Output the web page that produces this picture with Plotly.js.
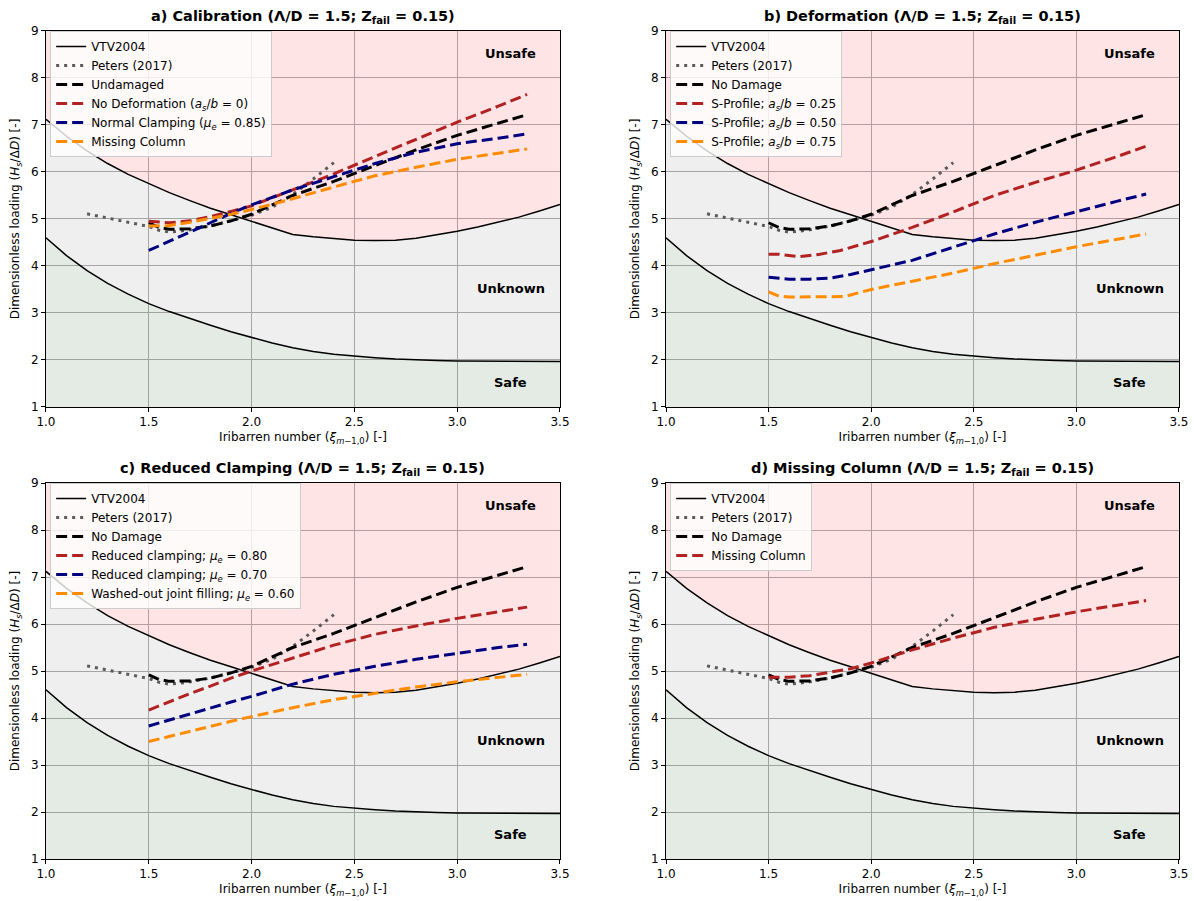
<!DOCTYPE html>
<html><head><meta charset="utf-8">
<script src="https://cdn.plot.ly/plotly-3.0.1.min.js"></script>
<style>html,body{margin:0;padding:0;background:#fff}#chart{width:1194px;height:901px}</style>
</head><body><div id="chart"></div>
<script>
// ---------- data ----------
const xiTicks = [1.0, 1.5, 2.0, 2.5, 3.0, 3.5];
const hTicks = [1, 2, 3, 4, 5, 6, 7, 8, 9];
const xiRange = [1.0, 3.5];
const hRange = [1, 9];

const vtvXi    = [1.0,1.1,1.2,1.3,1.4,1.5,1.6,1.7,1.8,1.9,2.0,2.1,2.2,2.3,2.4,2.5,2.6,2.7,2.8,2.9,3.0,3.1,3.2,3.3,3.4,3.5];
const vtvUpper = [7.12,6.76,6.45,6.18,5.95,5.75,5.56,5.39,5.23,5.09,4.95,4.80,4.67,4.62,4.58,4.55,4.54,4.55,4.59,4.66,4.74,4.83,4.93,5.04,5.17,5.31];
const vtvLower = [4.60,4.22,3.90,3.63,3.40,3.20,3.03,2.88,2.74,2.60,2.48,2.36,2.26,2.18,2.12,2.08,2.05,2.02,2.00,1.99,1.98,1.975,1.97,1.97,1.97,1.97];

const petersXi = [1.2,1.3,1.4,1.5,1.55,1.6,1.65,1.7,1.8,1.9,2.0,2.1,2.2,2.3,2.4];
const petersH  = [5.11,5.02,4.93,4.84,4.76,4.72,4.74,4.77,4.85,4.96,5.08,5.25,5.52,5.85,6.2];

const undamagedXi = [1.5,1.55,1.6,1.7,1.8,1.9,2.0,2.2,2.4,2.6,2.8,3.0,3.2,3.34];
const undamagedH  = [4.92,4.82,4.78,4.79,4.85,4.96,5.1,5.5,5.8,6.13,6.47,6.78,7.03,7.22];

const simXi = [1.5,1.6,1.7,1.8,1.9,2.0,2.2,2.4,2.6,2.8,3.0,3.2,3.34];

// a) Calibration
const noDeformationH   = [4.95,4.92,4.96,5.05,5.16,5.28,5.62,5.96,6.33,6.70,7.06,7.40,7.65];
const normalClampingH  = [4.33,4.52,4.72,4.92,5.12,5.30,5.62,5.90,6.18,6.42,6.60,6.72,6.81];
const missingColumnAH  = [4.85,4.86,4.93,5.01,5.10,5.20,5.43,5.68,5.92,6.10,6.27,6.40,6.49];

// b) Deformation
const sProfile025Xi = [1.5,1.55,1.65,1.75,1.85,2.0,2.2,2.4,2.6,2.8,3.0,3.2,3.34];
const sProfile025H  = [4.25,4.25,4.20,4.25,4.33,4.52,4.82,5.15,5.50,5.78,6.04,6.33,6.55];
const sProfile050H  = [3.76,3.72,3.72,3.74,3.82,3.92,4.12,4.40,4.68,4.93,5.16,5.38,5.53];
const sProfile075Xi = [1.5,1.55,1.6,1.7,1.8,1.87,2.0,2.2,2.4,2.6,2.8,3.0,3.2,3.34];
const sProfile075H  = [3.45,3.36,3.34,3.34,3.34,3.35,3.50,3.67,3.85,4.05,4.23,4.41,4.57,4.68];

// c) Reduced clamping
const clamping080H = [4.17,4.35,4.52,4.68,4.85,5.00,5.28,5.55,5.78,5.96,6.12,6.26,6.36];
const clamping070H = [3.83,3.96,4.09,4.21,4.34,4.46,4.72,4.93,5.10,5.25,5.38,5.50,5.57];
const washedOut060H = [3.50,3.61,3.72,3.83,3.93,4.03,4.22,4.39,4.53,4.66,4.77,4.87,4.93];

// d) Missing column
const missingColumnDH = [4.87,4.87,4.90,4.97,5.05,5.17,5.45,5.70,5.93,6.10,6.26,6.40,6.50];

const zoneLabels = ['Unsafe', 'Unknown', 'Safe'];
const zoneXi = [3.26, 3.26, 3.26];
const zoneH = [8.53, 3.53, 1.53];

// ---------- styles ----------
const FONT = 'DejaVu Sans, Arial, sans-serif';
const RED = '#b22222', NAVY = '#000080', ORANGE = '#ff8c00', BLACK = '#000000';
const DASH = '11px,5px';

const panels = [
  {title: 'a) Calibration', legendTop: 0.9656, series: [
    {name: 'Undamaged', xi: undamagedXi, h: undamagedH, color: BLACK},
    {name: 'No Deformation (<i>a<sub>s</sub></i>/<i>b</i> = 0)', xi: simXi, h: noDeformationH, color: RED},
    {name: 'Normal Clamping (<i>μ<sub>e</sub></i> = 0.85)', xi: simXi, h: normalClampingH, color: NAVY},
    {name: 'Missing Column', xi: simXi, h: missingColumnAH, color: ORANGE}]},
  {title: 'b) Deformation', legendTop: 0.9656, series: [
    {name: 'No Damage', xi: undamagedXi, h: undamagedH, color: BLACK},
    {name: 'S-Profile; <i>a<sub>s</sub></i>/<i>b</i> = 0.25', xi: sProfile025Xi, h: sProfile025H, color: RED},
    {name: 'S-Profile; <i>a<sub>s</sub></i>/<i>b</i> = 0.50', xi: simXi, h: sProfile050H, color: NAVY},
    {name: 'S-Profile; <i>a<sub>s</sub></i>/<i>b</i> = 0.75', xi: sProfile075Xi, h: sProfile075H, color: ORANGE}]},
  {title: 'c) Reduced Clamping', legendTop: 0.4639, series: [
    {name: 'No Damage', xi: undamagedXi, h: undamagedH, color: BLACK},
    {name: 'Reduced clamping; <i>μ<sub>e</sub></i> = 0.80', xi: simXi, h: clamping080H, color: RED},
    {name: 'Reduced clamping; <i>μ<sub>e</sub></i> = 0.70', xi: simXi, h: clamping070H, color: NAVY},
    {name: 'Washed-out joint filling; <i>μ<sub>e</sub></i> = 0.60', xi: simXi, h: washedOut060H, color: ORANGE}]},
  {title: 'd) Missing Column', legendTop: 0.4639, series: [
    {name: 'No Damage', xi: undamagedXi, h: undamagedH, color: BLACK},
    {name: 'Missing Column', xi: simXi, h: missingColumnDH, color: RED}]}
];

const xDomains = [[0.0385, 0.469], [0.5578, 0.9874], [0.0385, 0.469], [0.5578, 0.9874]];
const yDomains = [[0.5483, 0.9656], [0.5483, 0.9656], [0.0466, 0.4639], [0.0466, 0.4639]];

const traces = [];
const layout = {
  width: 1194, height: 901,
  margin: {l: 0, r: 0, t: 0, b: 0},
  paper_bgcolor: '#ffffff', plot_bgcolor: '#ffffff',
  font: {family: FONT, size: 12, color: '#000'},
  hovermode: false,
  annotations: []
};

panels.forEach((p, i) => {
  const n = i + 1;
  const xa = n === 1 ? 'x' : 'x' + n;
  const ya = n === 1 ? 'y' : 'y' + n;
  const lg = n === 1 ? 'legend' : 'legend' + n;
  const common = {xaxis: xa, yaxis: ya, legend: lg, mode: 'lines', hoverinfo: 'skip'};

  // zone fills
  traces.push(Object.assign({}, common, {x: vtvXi, y: vtvLower, fill: 'tozeroy',
    fillcolor: 'rgba(0,70,0,0.105)', line: {width: 0}, showlegend: false}));
  traces.push(Object.assign({}, common, {x: vtvXi, y: vtvUpper, fill: 'tonexty',
    fillcolor: 'rgba(0,0,0,0.062)', line: {width: 0}, showlegend: false}));
  traces.push(Object.assign({}, common, {x: vtvXi, y: vtvXi.map(() => hRange[1]), fill: 'tonexty',
    fillcolor: 'rgba(255,0,12,0.106)', line: {width: 0}, showlegend: false}));

  // VTV2004 boundaries
  traces.push(Object.assign({}, common, {x: vtvXi, y: vtvUpper, name: 'VTV2004',
    line: {color: '#000', width: 1.5}, showlegend: true}));
  traces.push(Object.assign({}, common, {x: vtvXi, y: vtvLower, name: 'VTV2004 lower',
    line: {color: '#000', width: 1.5}, showlegend: false}));

  // Peters (2017)
  traces.push(Object.assign({}, common, {x: petersXi, y: petersH, name: 'Peters (2017)',
    line: {color: '#5a5a5a', width: 3, dash: '3px,5px'}, showlegend: true}));

  p.series.forEach(s => {
    traces.push(Object.assign({}, common, {x: s.xi, y: s.h, name: s.name,
      line: {color: s.color, width: 3, dash: DASH}, showlegend: true}));
  });

  const axBase = {showline: true, mirror: true, linecolor: '#000', linewidth: 1,
    ticks: 'outside', ticklen: 4, tickwidth: 1, tickcolor: '#000',
    showgrid: true, gridcolor: '#b0b0b0', gridwidth: 1, zeroline: false,
    tickfont: {family: FONT, size: 12, color: '#000'}};

  layout['xaxis' + (n === 1 ? '' : n)] = Object.assign({}, axBase, {
    domain: xDomains[i], anchor: ya, range: xiRange,
    tickmode: 'array', tickvals: xiTicks, ticktext: xiTicks.map(v => v.toFixed(1)),
    title: {text: 'Iribarren number (<i>ξ</i><sub><i>m</i>−1,0</sub>) [-]', font: {family: FONT, size: 12}, standoff: 4}
  });
  layout['yaxis' + (n === 1 ? '' : n)] = Object.assign({}, axBase, {
    domain: yDomains[i], anchor: xa, range: hRange,
    tickmode: 'array', tickvals: hTicks, ticktext: hTicks.map(String),
    title: {text: 'Dimensionless loading (<i>H<sub>s</sub></i>/Δ<i>D</i>) [-]', font: {family: FONT, size: 12}, standoff: 8}
  });

  layout[lg] = {
    x: xDomains[i][0] + 0.0035, y: p.legendTop, xanchor: 'left', yanchor: 'top',
    xref: 'paper', yref: 'paper', traceorder: 'normal',
    bgcolor: 'rgba(255,255,255,0.8)', bordercolor: '#cccccc', borderwidth: 1,
    font: {family: FONT, size: 12, color: '#000'}, tracegroupgap: 0, itemwidth: 30
  };

  layout.annotations.push({
    text: '<b>' + p.title + ' (Λ/D = 1.5; Z<sub>fail</sub> = 0.15)</b>',
    xref: 'paper', yref: 'paper', x: (xDomains[i][0] + xDomains[i][1]) / 2, y: yDomains[i][1],
    xanchor: 'center', yanchor: 'bottom', yshift: 3, showarrow: false,
    font: {family: FONT, size: 14.5, color: '#000'}
  });
  zoneLabels.forEach((t, k) => {
    layout.annotations.push({text: '<b>' + t + '</b>', xref: xa, yref: ya, x: zoneXi[k], y: zoneH[k],
      showarrow: false, xanchor: 'center', yanchor: 'middle', font: {family: FONT, size: 13, color: '#000'}});
  });
});

Plotly.newPlot('chart', traces, layout, {staticPlot: true, displayModeBar: false});
</script>
</body></html>
